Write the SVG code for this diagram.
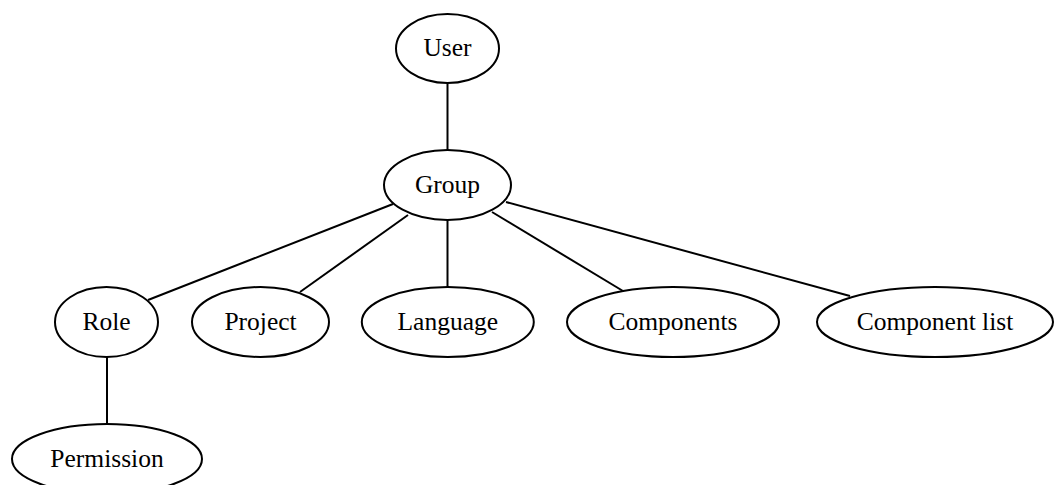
<svg xmlns="http://www.w3.org/2000/svg" width="1054" height="485" viewBox="0 0 1054 485">
<style>
.n ellipse{fill:none;stroke:#000;stroke-width:2}
.n text{font-family:"Liberation Serif","Times New Roman",serif;font-size:25.5px;text-anchor:middle;fill:#000}
.e line{stroke:#000;stroke-width:2}
</style>
<rect width="1054" height="485" fill="#fff"/>
<g id="edges" class="e">
<line x1="447.5" y1="83" x2="447.5" y2="150"/>
<line x1="393" y1="204" x2="148" y2="300"/>
<line x1="408" y1="215" x2="300" y2="292"/>
<line x1="447.5" y1="220" x2="447.5" y2="287"/>
<line x1="492" y1="212" x2="623" y2="291"/>
<line x1="506" y1="202" x2="850" y2="296"/>
<line x1="107" y1="357" x2="107" y2="424"/>
</g>
<g id="user" class="n"><ellipse cx="447.5" cy="48.5" rx="51.5" ry="34.5"/><text x="447.5" y="56">User</text></g>
<g id="group" class="n"><ellipse cx="447.5" cy="185" rx="63.5" ry="35"/><text x="447.5" y="192.5">Group</text></g>
<g id="role" class="n"><ellipse cx="106.5" cy="322" rx="51.5" ry="35"/><text x="106.5" y="329.5">Role</text></g>
<g id="project" class="n"><ellipse cx="260.5" cy="322" rx="68.5" ry="35"/><text x="260.5" y="329.5">Project</text></g>
<g id="language" class="n"><ellipse cx="447.8" cy="322" rx="86" ry="35"/><text x="447.8" y="329.5">Language</text></g>
<g id="components" class="n"><ellipse cx="673" cy="322" rx="106" ry="35"/><text x="673" y="329.5">Components</text></g>
<g id="componentlist" class="n"><ellipse cx="935" cy="322" rx="118" ry="35"/><text x="935" y="329.5">Component list</text></g>
<g id="permission" class="n"><ellipse cx="107" cy="459" rx="95" ry="35"/><text x="107" y="466.5">Permission</text></g>
</svg>
